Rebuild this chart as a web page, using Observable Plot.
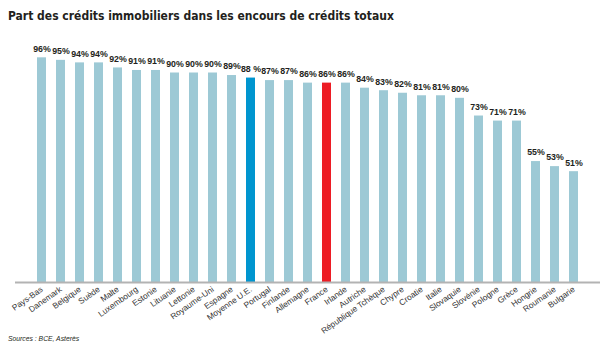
<!DOCTYPE html>
<html>
<head>
<meta charset="utf-8">
<script src="https://cdn.jsdelivr.net/npm/d3@7"></script>
<script src="https://cdn.jsdelivr.net/npm/@observablehq/plot@0.6"></script>
<style>
  html, body { margin: 0; padding: 0; background: #fff; }
  #wrap { position: relative; width: 613px; height: 354px; overflow: hidden; }
  #chart { position: absolute; left: 0; top: 0; }
  #title { position: absolute; left: 8px; top: 9px; font-family: "Liberation Sans Narrow", "DejaVu Sans Condensed", sans-serif; font-weight: bold; font-size: 12px; color: #231f20; white-space: nowrap; }
  #source { position: absolute; left: 8px; top: 335px; font-family: "Liberation Sans", sans-serif; font-style: italic; font-size: 6.8px; color: #231f20; white-space: nowrap; }
</style>
</head>
<body>
<div id="wrap">
  <div id="chart"></div>
  <div id="title">Part des crédits immobiliers dans les encours de crédits totaux</div>
  <div id="source">Sources : BCE, Asterès</div>
</div>
<script>
const countries = ["Pays-Bas","Danemark","Belgique","Suède","Malte","Luxembourg","Estonie","Lituanie","Lettonie","Royaume-Uni","Espagne","Moyenne U.E.","Portugal","Finlande","Allemagne","France","Irlande","Autriche","République Tchèque","Chypre","Croatie","Italie","Slovaquie","Slovénie","Pologne","Grèce","Hongrie","Roumanie","Bulgarie"];
const values = [96,95,94,94,92,91,91,90,90,90,89,88,87,87,86,86,86,84,83,82,81,81,80,73,71,71,55,53,51];
const valueLabels = ["96%","95%","94%","94%","92%","91%","91%","90%","90%","90%","89%","88 %","87%","87%","86%","86%","86%","84%","83%","82%","81%","81%","80%","73%","71%","71%","55%","53%","51%"];
const highlight = {"Moyenne U.E.": "avg", "France": "fr"};

const data = countries.map((c, i) => ({country: c, value: values[i], label: valueLabels[i], kind: highlight[c] || "base"}));
const yBase = 7.2;

const plot = Plot.plot({
  width: 613,
  height: 354,
  marginLeft: 15,
  marginRight: 13,
  marginTop: 47.2,
  marginBottom: 72,
  style: {background: "transparent", fontFamily: "Liberation Sans, Arial, sans-serif"},
  x: {domain: countries, paddingInner: 0.55, paddingOuter: 0.65, label: null},
  y: {domain: [yBase, 100], axis: null},
  color: {domain: ["base","avg","fr"], range: ["#9dc9d5","#0095cf","#ed1c24"]},
  marks: [
    Plot.barY(data, {x: "country", y1: yBase, y2: "value", fill: "kind"}),
    Plot.ruleY([yBase], {stroke: "#b3b3b3", strokeWidth: 2}),
    Plot.text(data, {x: "country", y: "value", text: "label", dy: -9, fontSize: 8.8, fontWeight: "bold", fill: "#231f20"}),
    Plot.axisX({tickSize: 0, tickPadding: 6, tickRotate: -35, fontSize: 8.3, color: "#333", label: null})
  ]
});
document.getElementById("chart").appendChild(plot);
</script>
</body>
</html>
